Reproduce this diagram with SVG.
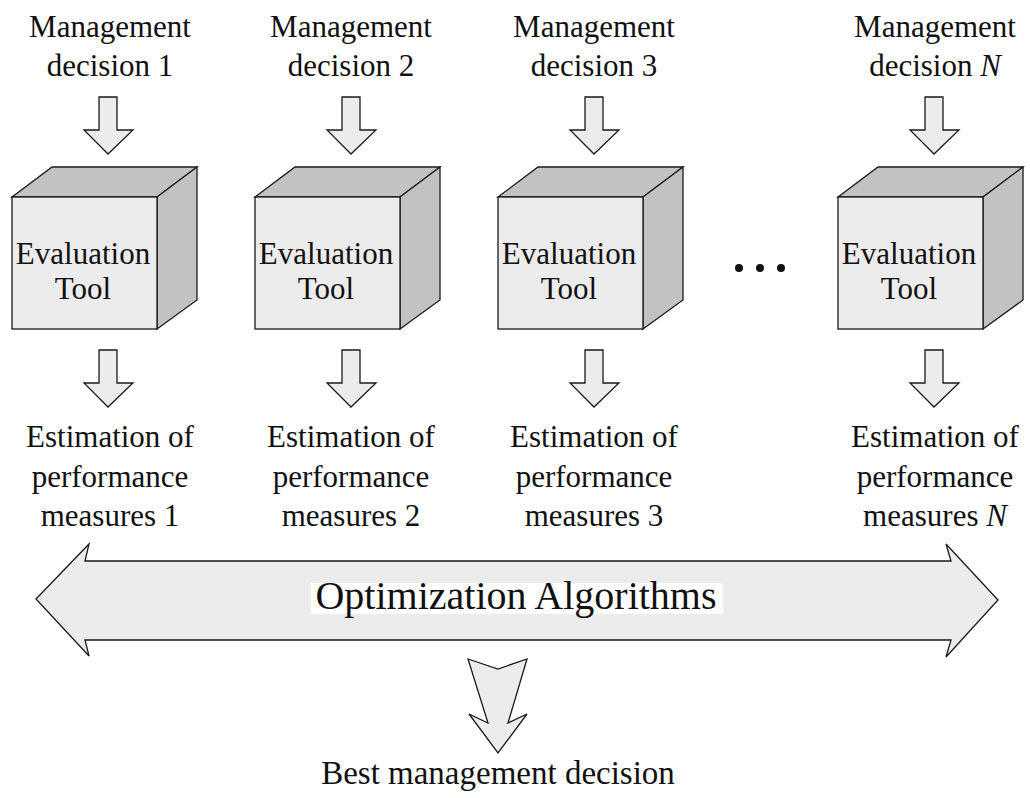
<svg xmlns="http://www.w3.org/2000/svg" width="1030" height="798" viewBox="0 0 1030 798">
  <defs>
    <style>
      text { font-family: "Liberation Serif", "Times New Roman", serif; fill: #111; text-anchor: middle; }
      .lbl { font-size: 31px; }
      .tool { font-size: 31px; }
      .opt { font-size: 40px; }
      .best { font-size: 33px; }
      .shape { stroke: #1a1a1a; stroke-width: 1.3; stroke-linejoin: miter; }
      .light { fill: #ececec; }
      .dark { fill: #c2c2c2; }
    </style>
    <!-- small block arrow pointing down, centred on x=0, top at y=0 -->
    <polygon id="downArrow" class="shape light" points="-9,0 9,0 9,33 25,33 0,57 -24,33 -9,33"/>
    <!-- cube: front face 145x132, depth offset (40,-30) -->
    <g id="cubeShape">
      <polygon class="shape dark" points="0,30 40,0 185,0 145,30"/>
      <polygon class="shape dark" points="145,30 185,0 185,133 145,162"/>
      <rect class="shape light" x="0" y="30" width="145" height="132"/>
    </g>
  </defs>

  <!-- decision labels -->
  <g id="decision-1"><text class="lbl" x="110" y="37">Management</text><text class="lbl" x="110" y="76">decision 1</text></g>
  <g id="decision-2"><text class="lbl" x="351" y="37">Management</text><text class="lbl" x="351" y="76">decision 2</text></g>
  <g id="decision-3"><text class="lbl" x="594" y="37">Management</text><text class="lbl" x="594" y="76">decision 3</text></g>
  <g id="decision-n"><text class="lbl" x="935" y="37">Management</text><text class="lbl" x="935" y="76">decision <tspan font-style="italic">N</tspan></text></g>

  <!-- evaluation tool cubes -->
  <g id="tool-1"><use href="#cubeShape" x="12" y="167"/><text class="tool" x="83" y="264">Evaluation</text><text class="tool" x="83" y="299">Tool</text></g>
  <g id="tool-2"><use href="#cubeShape" x="255" y="167"/><text class="tool" x="326" y="264">Evaluation</text><text class="tool" x="326" y="299">Tool</text></g>
  <g id="tool-3"><use href="#cubeShape" x="498" y="167"/><text class="tool" x="569" y="264">Evaluation</text><text class="tool" x="569" y="299">Tool</text></g>
  <g id="tool-n"><use href="#cubeShape" x="838" y="167"/><text class="tool" x="909" y="264">Evaluation</text><text class="tool" x="909" y="299">Tool</text></g>

  <!-- ellipsis between tool 3 and tool N -->
  <g id="ellipsis" fill="#111">
    <circle cx="739" cy="268" r="4"/>
    <circle cx="760" cy="268" r="4"/>
    <circle cx="781" cy="268" r="4"/>
  </g>

  <!-- performance estimates -->
  <g id="estimate-1"><text class="lbl" x="110" y="447">Estimation of</text><text class="lbl" x="110" y="487">performance</text><text class="lbl" x="110" y="526">measures 1</text></g>
  <g id="estimate-2"><text class="lbl" x="351" y="447">Estimation of</text><text class="lbl" x="351" y="487">performance</text><text class="lbl" x="351" y="526">measures 2</text></g>
  <g id="estimate-3"><text class="lbl" x="594" y="447">Estimation of</text><text class="lbl" x="594" y="487">performance</text><text class="lbl" x="594" y="526">measures 3</text></g>
  <g id="estimate-n"><text class="lbl" x="935" y="447">Estimation of</text><text class="lbl" x="935" y="487">performance</text><text class="lbl" x="935" y="526">measures <tspan font-style="italic">N</tspan></text></g>

  <!-- optimization band -->
  <g id="optimization">
    <polygon class="shape light" points="36,599 89,544 85,561 951,561 946,544 998,600 946,657 951,640 85,640 89,656"/>
    <rect x="311" y="583" width="412" height="31" fill="#ffffff"/>
    <text class="opt" x="516" y="609">Optimization Algorithms</text>
  </g>

  <!-- result -->
  <g id="best-decision"><text class="best" x="498" y="784">Best management decision</text></g>

  <!-- connectors -->
  <g id="connectors">
    <use href="#downArrow" x="108" y="97"/>
    <use href="#downArrow" x="351" y="97"/>
    <use href="#downArrow" x="594" y="97"/>
    <use href="#downArrow" x="934" y="97"/>
    <use href="#downArrow" x="108" y="350"/>
    <use href="#downArrow" x="351" y="350"/>
    <use href="#downArrow" x="594" y="350"/>
    <use href="#downArrow" x="934" y="350"/>
    <polygon class="shape light" points="468,659 498,669 527,659 508,723 527,714 498,753 469,714 488,723"/>
  </g>
</svg>
